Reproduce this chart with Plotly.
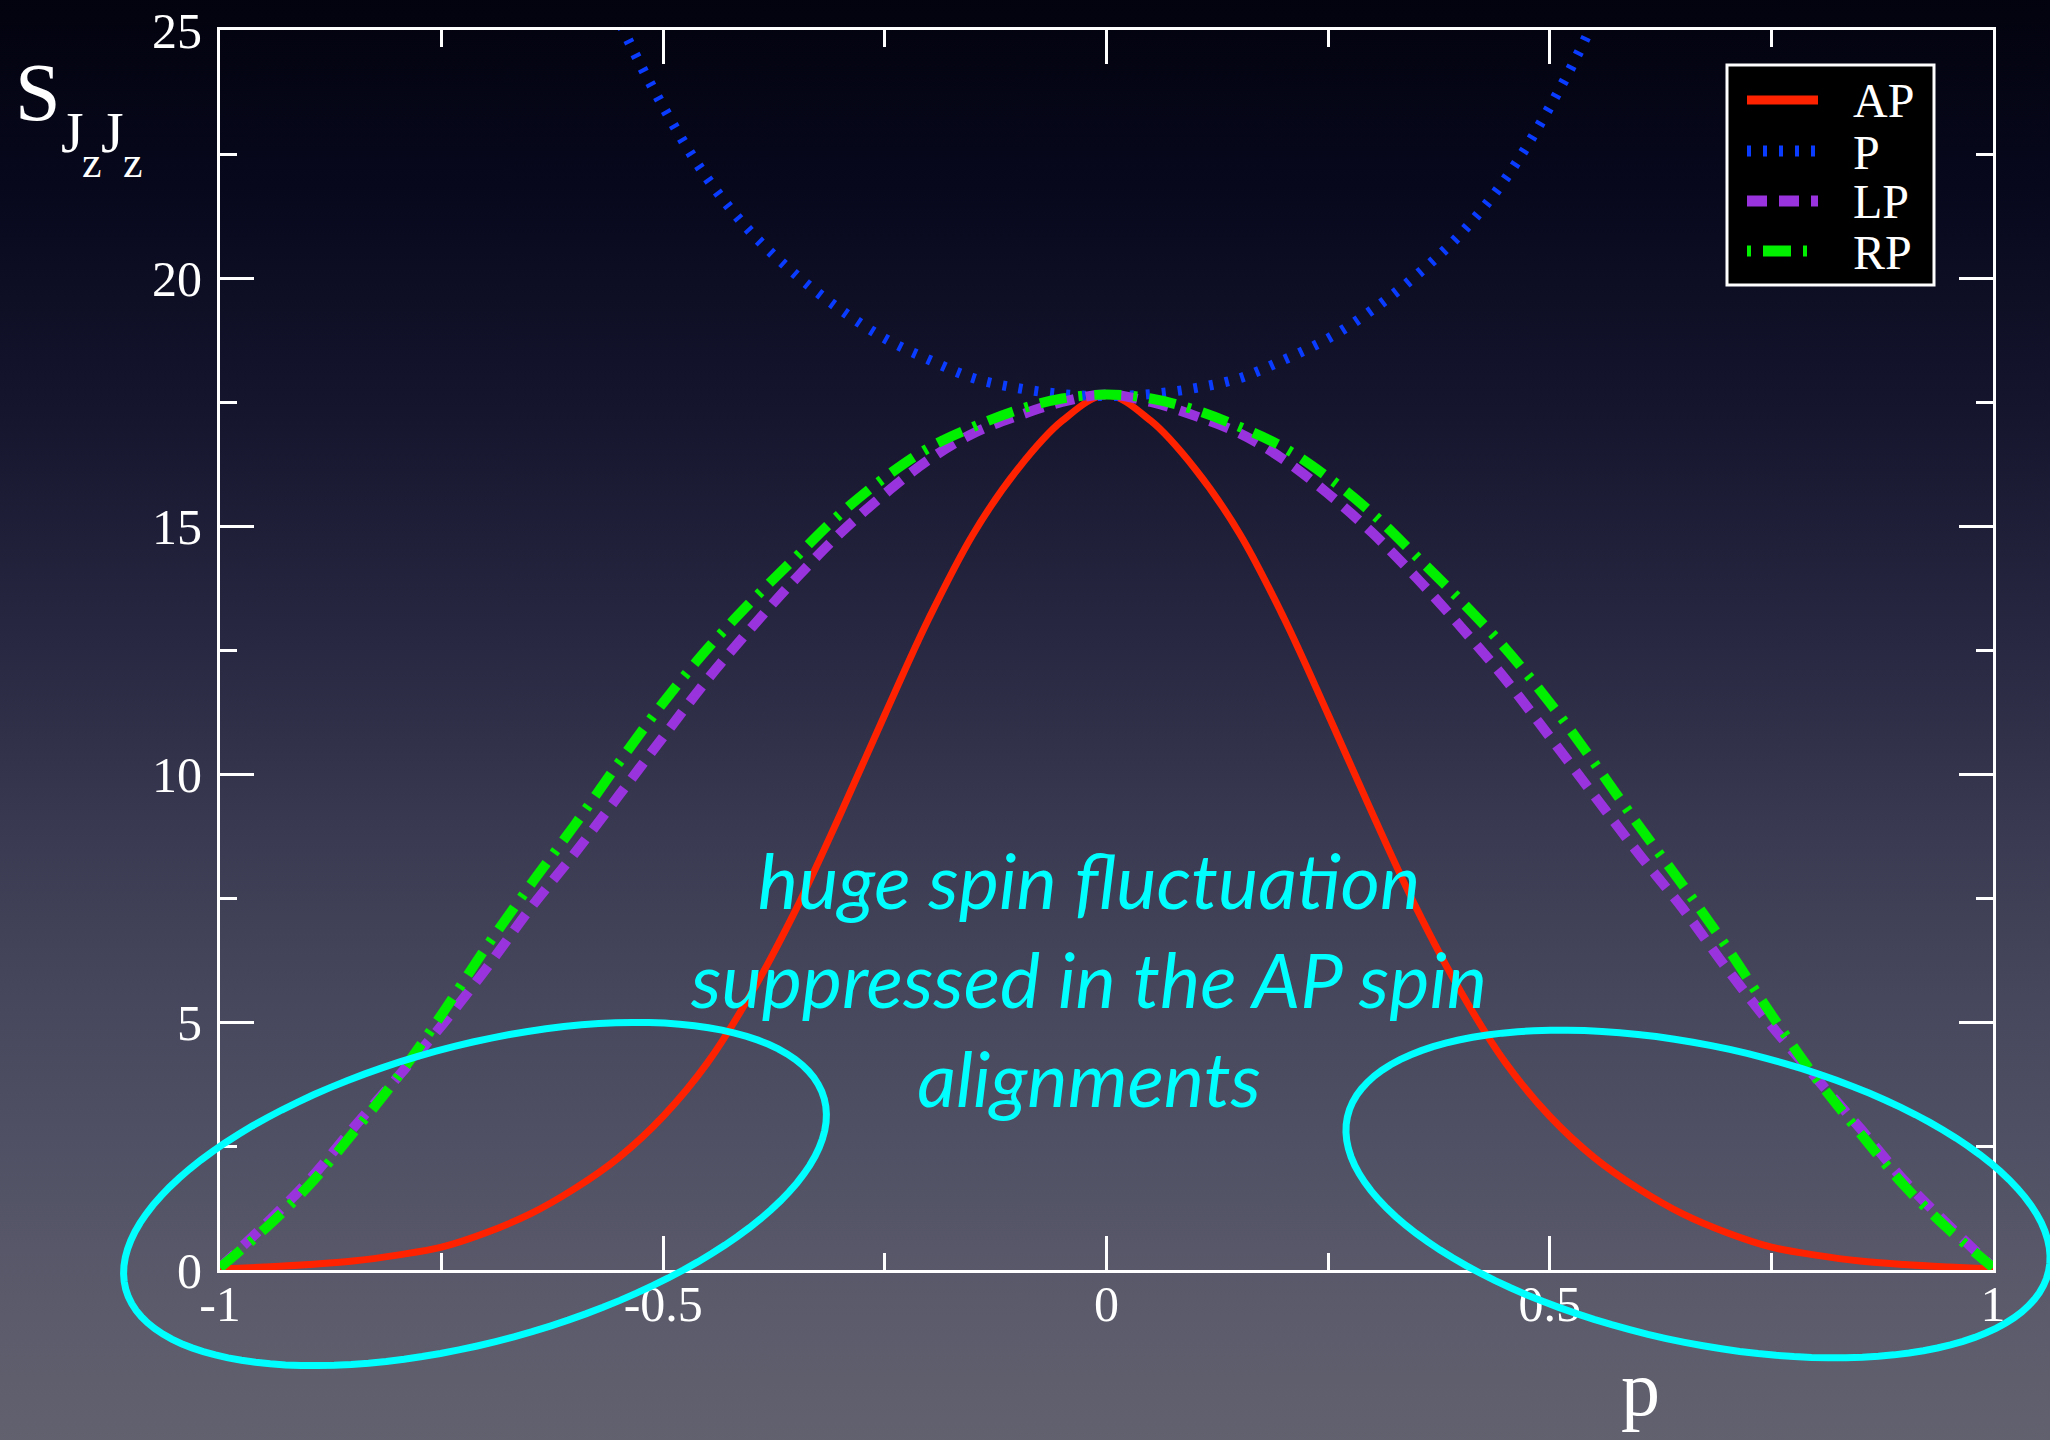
import base64
import math
import plotly.graph_objects as go

# ---------------- data ----------------
P_GRID = [-1.0, -0.95, -0.9, -0.85, -0.8, -0.75, -0.7, -0.65, -0.6, -0.55, -0.5,
          -0.45, -0.4, -0.35, -0.3, -0.25, -0.2, -0.15, -0.1, -0.05, 0.0,
          0.05, 0.1, 0.15, 0.2, 0.25, 0.3, 0.35, 0.4, 0.45, 0.5,
          0.55, 0.6, 0.65, 0.7, 0.75, 0.8, 0.85, 0.9, 0.95, 1.0]

S_AP = [0.02, 0.06, 0.11, 0.18, 0.3, 0.46, 0.75, 1.13, 1.64, 2.27, 3.1,
        4.18, 5.6, 7.28, 9.2, 11.2, 13.15, 14.85, 16.15, 17.12, 17.64,
        17.12, 16.15, 14.85, 13.15, 11.2, 9.2, 7.28, 5.6, 4.18, 3.1,
        2.27, 1.64, 1.13, 0.75, 0.46, 0.3, 0.18, 0.11, 0.06, 0.02]

S_LP = [0.05, 0.9, 1.8, 2.86, 3.88, 4.93, 6.07, 7.29, 8.4, 9.57, 10.75,
        11.91, 12.96, 13.95, 14.86, 15.65, 16.34, 16.87, 17.22, 17.5, 17.65,
        17.5, 17.22, 16.87, 16.34, 15.65, 14.86, 13.95, 12.96, 11.91, 10.75,
        9.57, 8.4, 7.29, 6.07, 4.93, 3.88, 2.86, 1.8, 0.9, 0.05]

S_RP = [0.05, 0.82, 1.7, 2.76, 3.88, 5.15, 6.5, 7.76, 8.97, 10.23, 11.44,
        12.53, 13.49, 14.38, 15.25, 15.98, 16.58, 17.0, 17.34, 17.57, 17.65,
        17.57, 17.34, 17.0, 16.58, 15.98, 15.25, 14.38, 13.49, 12.53, 11.44,
        10.23, 8.97, 7.76, 6.5, 5.15, 3.88, 2.76, 1.7, 0.82, 0.05]

P_GRID_P = [-0.6, -0.55, -0.5, -0.45, -0.4, -0.35, -0.3, -0.25, -0.2, -0.15, -0.1, -0.05, 0.0,
            0.05, 0.1, 0.15, 0.2, 0.25, 0.3, 0.35, 0.4, 0.45, 0.5, 0.55, 0.6]
S_P = [27.5, 25.2, 23.45, 22.0, 20.9, 20.06, 19.36, 18.78, 18.35, 17.98, 17.78, 17.66, 17.62,
       17.66, 17.78, 17.98, 18.35, 18.78, 19.36, 20.06, 20.9, 22.0, 23.45, 25.2, 27.5]

SERIES_NAMES = ["AP", "P", "LP", "RP"]
X_TICKS = [-1, -0.5, 0, 0.5, 1]
X_TICK_LABELS = ["-1", "-0.5", "0", "0.5", "1"]
Y_TICKS = [0, 5, 10, 15, 20, 25]
Y_TICK_LABELS = ["0", "5", "10", "15", "20", "25"]

NOTE = "huge spin fluctuation<br>suppressed in the AP spin<br>alignments"

# ---------------- layout geometry ----------------
W, H = 2050, 1440
L, R, T, B = 220, 57, 30, 170
PW, PH = W - L - R, H - T - B


def px_x(px):
    return (px - L) / PW


def px_y(py):
    return (H - B - py) / PH


SERIF = "Liberation Serif"
WHITE = "#ffffff"

STYLES = {
    "AP": dict(color="#ff2200", width=7, dash="solid", lw=9),
    "P": dict(color="#0a3cff", width=10, dash="4px,12px", lw=11),
    "LP": dict(color="#9933dd", width=10, dash="20px,12px", lw=11),
    "RP": dict(color="#00f000", width=10, dash="27px,12px,4px,12px", lw=11),
}
LEGEND_DASH = {"AP": "solid", "P": "4px,12px", "LP": "20px,12px", "RP": "4px,12px,28px,12px"}

fig = go.Figure()
for name, xs, ys in [("AP", P_GRID, S_AP), ("P", P_GRID_P, S_P),
                     ("LP", P_GRID, S_LP), ("RP", P_GRID, S_RP)]:
    st = STYLES[name]
    fig.add_trace(go.Scatter(x=xs, y=ys, name=name, mode="lines", showlegend=False,
                             line=dict(color=st["color"], width=st["width"], dash=st["dash"],
                                       shape="spline")))

axis_common = dict(
    showgrid=False, zeroline=False, showline=True, linecolor=WHITE, linewidth=3,
    mirror="ticks", ticks="inside", tickcolor=WHITE, tickwidth=3, ticklen=34,
    tickfont=dict(family=SERIF, size=50, color=WHITE), automargin=False,
)

fig.update_xaxes(range=[-1, 1], tickmode="array", tickvals=X_TICKS, ticktext=X_TICK_LABELS,
                 minor=dict(dtick=0.25, ticks="inside", ticklen=17, tickwidth=3, tickcolor=WHITE),
                 ticklabelstandoff=-12, **axis_common)
fig.update_yaxes(range=[0, 25], tickmode="array", tickvals=Y_TICKS, ticktext=Y_TICK_LABELS,
                 minor=dict(dtick=2.5, ticks="inside", ticklen=17, tickwidth=3, tickcolor=WHITE),
                 ticklabelstandoff=5, **axis_common)

# ---------------- background gradient ----------------
stops = [(0.0, "#02020d"), (0.14, "#07081c"), (0.29, "#15152e"), (0.45, "#282842"),
         (0.58, "#3a3a52"), (0.75, "#4d4d62"), (0.89, "#5a5a6b"), (1.0, "#62626f")]
svg = ('<svg xmlns="http://www.w3.org/2000/svg" width="%d" height="%d" preserveAspectRatio="none">'
       '<defs><linearGradient id="g" x1="0" y1="0" x2="0" y2="1">' % (W, H)
       + "".join('<stop offset="%g" stop-color="%s"/>' % s for s in stops)
       + '</linearGradient></defs><rect width="%d" height="%d" fill="url(#g)"/></svg>' % (W, H))
src = "data:image/svg+xml;base64," + base64.b64encode(svg.encode()).decode()
EXT = 20
fig.add_layout_image(dict(source=src, xref="paper", yref="paper", x=px_x(-EXT), y=px_y(-EXT),
                          sizex=(W + 2 * EXT) / PW, sizey=(H + 2 * EXT) / PH,
                          xanchor="left", yanchor="top", sizing="stretch", layer="below"))


# ---------------- ellipses ----------------
def ellipse_path(cx, cy, a, b, theta_deg, n=120):
    th = math.radians(theta_deg)
    pts = []
    for i in range(n):
        t = 2 * math.pi * i / n
        x = cx + a * math.cos(t) * math.cos(th) - b * math.sin(t) * math.sin(th)
        y = cy - (a * math.cos(t) * math.sin(th) + b * math.sin(t) * math.cos(th))
        pts.append((px_x(x), px_y(y)))
    return "M " + " L ".join("%.5f,%.5f" % p for p in pts) + " Z"


for (cx, cy, a, b, th) in [(475, 1194, 362, 148, 15.25), (1698, 1194, 359, 148, -12.4)]:
    fig.add_shape(type="path", path=ellipse_path(cx, cy, a, b, th), xref="paper", yref="paper",
                  line=dict(color="#00ffff", width=7), layer="above")

# ---------------- legend (box, samples, labels) ----------------
LEG_L, LEG_R, LEG_T, LEG_B = 1727, 1934, 65, 285
fig.add_shape(type="rect", xref="paper", yref="paper",
              x0=px_x(LEG_L), x1=px_x(LEG_R), y0=px_y(LEG_B), y1=px_y(LEG_T),
              fillcolor="#000000", line=dict(color=WHITE, width=3), layer="above")
ann = []
row_y = [100, 151, 201, 251]
for name, ry in zip(SERIES_NAMES, row_y):
    st = STYLES[name]
    fig.add_shape(type="line", xref="paper", yref="paper",
                  x0=px_x(1747), x1=px_x(1818), y0=px_y(ry), y1=px_y(ry),
                  line=dict(color=st["color"], width=st["lw"], dash=LEGEND_DASH[name]),
                  layer="above")
    ann.append(dict(text=name, x=px_x(1851), y=px_y(ry + 1), xref="paper", yref="paper",
                    showarrow=False, xanchor="left", yanchor="middle",
                    font=dict(family=SERIF, size=48, color=WHITE)))

# ---------------- annotations ----------------
ann.append(dict(text=NOTE, x=px_x(1088), y=px_y(978), xref="paper", yref="paper",
                showarrow=False, align="center", xanchor="center", yanchor="middle",
                font=dict(family="Lato", size=76, color="#00ffff", style="italic")))
# y-axis title S_{JzJz}
for txt, cx, cy, size in [("S", 38, 93, 82), ("J", 72, 133, 58), ("z", 92, 162, 44),
                          ("J", 112, 133, 58), ("z", 133, 162, 44)]:
    ann.append(dict(text=txt, x=px_x(cx), y=px_y(cy), xref="paper", yref="paper",
                    showarrow=False, xanchor="center", yanchor="middle",
                    font=dict(family=SERIF, size=size, color=WHITE)))
# x-axis title p
ann.append(dict(text="p", x=px_x(1640), y=px_y(1388), xref="paper", yref="paper",
                showarrow=False, xanchor="center", yanchor="middle",
                font=dict(family=SERIF, size=78, color=WHITE)))

fig.update_layout(
    width=W, height=H,
    margin=dict(l=L, r=R, t=T, b=B, pad=0, autoexpand=False),
    paper_bgcolor="#02020d", plot_bgcolor="rgba(0,0,0,0)",
    annotations=ann,
    showlegend=False,
)

fig.write_html("out.html", config={"displayModeBar": False},
               post_script="document.body.style.margin='0';document.body.style.overflow='hidden';")
